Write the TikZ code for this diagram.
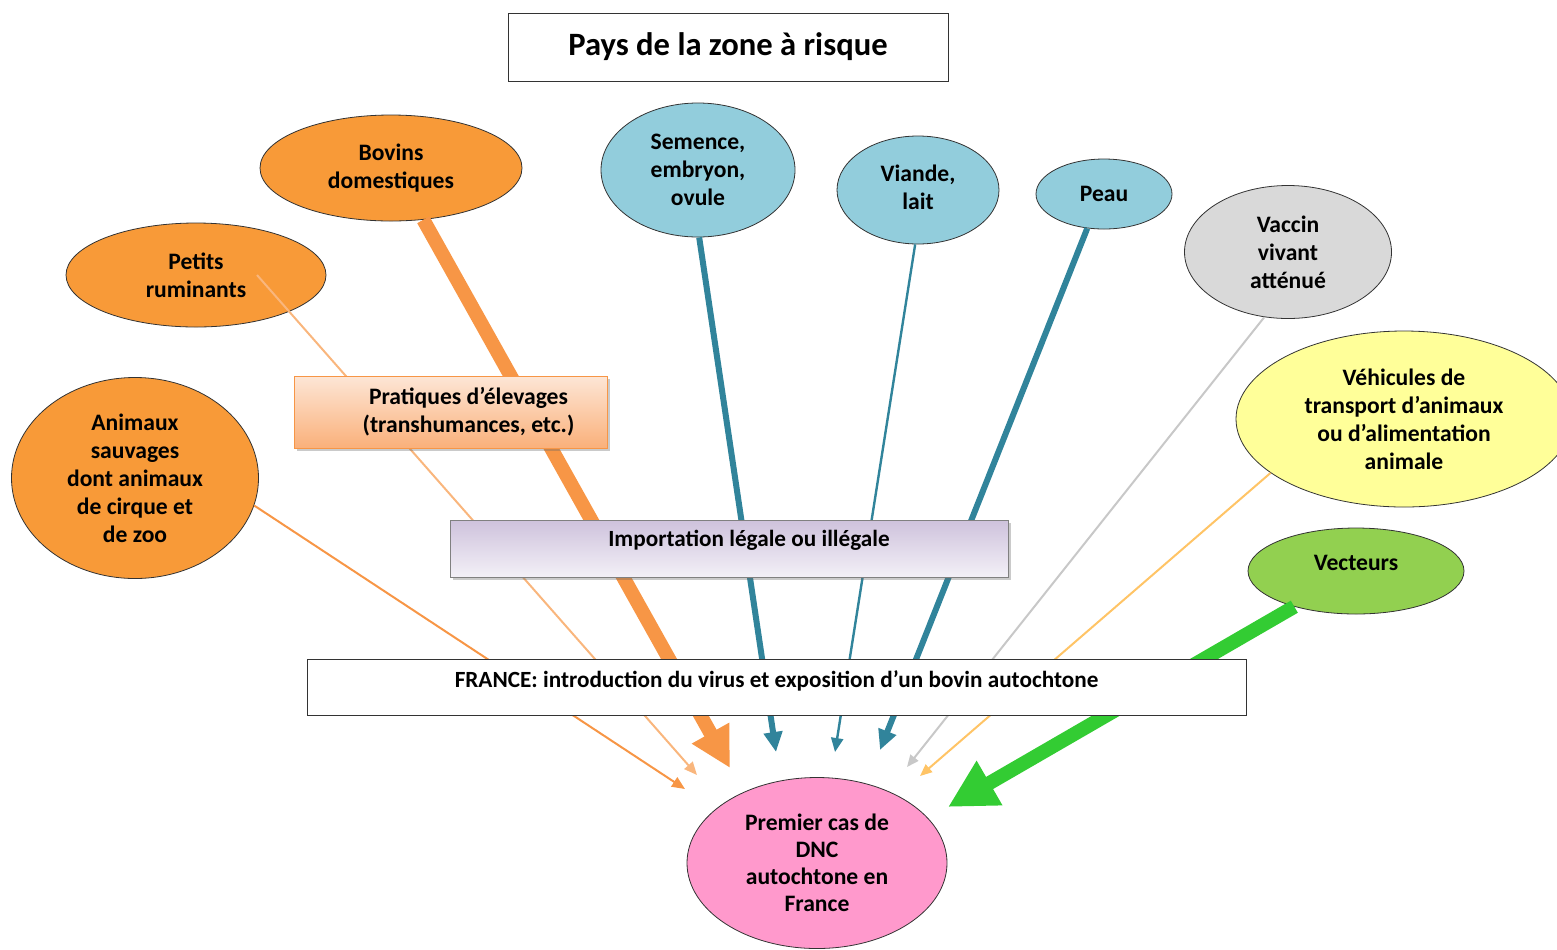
\documentclass[tikz,border=0pt]{standalone}
\usepackage{fontspec}
\setmainfont{Carlito}
\usepackage{tikz}
\usetikzlibrary{shapes,arrows.meta,positioning,calc,shadows}
\usepackage{xcolor}

\definecolor{orfill}{RGB}{248,154,56}
\definecolor{orline}{RGB}{247,150,70}
\definecolor{dnteal}{RGB}{49,132,155}
\definecolor{skyfill}{RGB}{146,205,220}
\definecolor{grayfill}{RGB}{217,217,217}
\definecolor{grayline}{RGB}{200,200,200}
\definecolor{yelfill}{RGB}{255,255,153}
\definecolor{yelline}{RGB}{255,196,102}
\definecolor{grnfill}{RGB}{146,208,80}
\definecolor{grnline}{RGB}{51,204,51}
\definecolor{pinkfill}{RGB}{255,153,204}
\definecolor{pratop}{RGB}{253,230,214}
\definecolor{prabot}{RGB}{250,176,122}
\definecolor{imptop}{RGB}{206,194,220}
\definecolor{impbot}{RGB}{243,240,247}

\begin{document}
\begin{tikzpicture}[x=0.5pt, y=-0.5pt,
    oval/.style={ellipse, draw=black!80, thin, inner sep=0pt, align=center,
                 font=\bfseries\fontsize{11.8}{14}\selectfont},
    box/.style={rectangle, draw=black!80, thin, inner sep=0pt, align=center},
    shade/.style={drop shadow={shadow xshift=1.5pt, shadow yshift=-1.5pt,
                 opacity=0.35, fill=black!60}},
    lbl/.style={font=\bfseries\fontsize{11.6}{14}\selectfont, align=center},
    link/.style={line cap=butt}
  ]
  \useasboundingbox (0,0) rectangle (1557,949);

  % sources
  \node[oval, fill=orfill, minimum width=131pt, minimum height=53pt] (bov) at (391,168) {Bovins\\domestiques};
  \node[oval, fill=orfill, minimum width=130pt, minimum height=52pt] (pr) at (196,275) {Petits\\ruminants};
  \node[oval, fill=orfill, minimum width=123.5pt, minimum height=100.5pt] (ani) at (135,478) {Animaux\\sauvages\\dont animaux\\de cirque et\\de zoo};
  \node[oval, fill=skyfill, minimum width=97pt, minimum height=67pt] (sem) at (698,170) {Semence,\\embryon,\\ovule};
  \node[oval, fill=skyfill, minimum width=81pt, minimum height=54pt, text depth=3pt] (via) at (918,190) {Viande,\\lait};
  \node[oval, fill=skyfill, minimum width=68pt, minimum height=35pt] (peau) at (1104,194) {Peau};
  \node[oval, fill=grayfill, minimum width=103.5pt, minimum height=66.5pt] (vac) at (1288,252) {Vaccin\\vivant\\atténué};
  \node[oval, fill=yelfill, minimum width=168pt, minimum height=88pt] (veh) at (1404,419) {Véhicules de\\transport d’animaux\\ou d’alimentation\\animale};
  \node[oval, fill=grnfill, minimum width=108pt, minimum height=43pt, text depth=8pt] (vec) at (1356,571) {Vecteurs};

  % target
  \node[oval, fill=pinkfill, minimum width=130pt, minimum height=85.5pt,
        font=\bfseries\fontsize{11.8}{13.5}\selectfont] (prem) at (817,863) {Premier cas de\\DNC\\autochtone en\\France};

  % arrow tips
  \coordinate (ta) at (685,789);
  \coordinate (tp) at (697,775);
  \coordinate (tb) at (730,768);
  \coordinate (ts) at (776,752);
  \coordinate (tv) at (835,752);
  \coordinate (tpe) at (880,750);
  \coordinate (tva) at (907,767);
  \coordinate (tve) at (920,776);
  \coordinate (tg) at (948,807);
  \coordinate (prs) at ($(pr.center)+(61,0)$);

  \draw[link, orline, line width=1pt, -{Triangle[width=5.5pt,length=6.5pt]}] (ani.347.5) -- (ta);
  \draw[link, orline!70!white, line width=1pt, -{Triangle[width=5.5pt,length=6.5pt]}] (prs) -- (tp);
  \draw[link, orline, line width=7pt, -{Triangle[width=20pt,length=20pt]}] (bov.302.2) -- (tb);
  \draw[link, dnteal, line width=3pt, -{Triangle[width=9pt,length=10pt]}] (sem.271.7) -- (ts);
  \draw[link, dnteal, line width=1.2pt, -{Triangle[width=6pt,length=7pt]}] (via.267.9) -- (tv);
  \draw[link, dnteal, line width=3pt, -{Triangle[width=9pt,length=10pt]}] (peau.244.1) -- (tpe);
  \draw[link, grayline, line width=1pt, -{Triangle[width=5pt,length=6pt]}] (vac.250.8) -- (tva);
  \draw[link, yelline, line width=1pt, -{Triangle[width=5pt,length=6pt]}] (veh.202.7) -- (tve);
  \draw[link, grnline, line width=7pt, -{Triangle[width=24pt,length=24pt]}] (vec) -- (tg);

  % boxes over the links
  \node[box, fill=white, minimum width=220pt, minimum height=34pt,
        font=\bfseries\fontsize{16.3}{19}\selectfont] (title) at (728,47) {Pays de la zone à risque};
  \node[box, draw=orline, top color=pratop, bottom color=prabot, shade,
        minimum width=156.5pt, minimum height=36pt,
        label={[lbl, font=\bfseries\fontsize{11.8}{14}\selectfont, xshift=9pt]center:Pratiques d’élevages\\(transhumances, etc.)}] (prat) at (450.5,412) {};
  \node[box, draw=black!50, top color=imptop, bottom color=impbot, shade,
        minimum width=279pt, minimum height=28.5pt,
        label={[lbl, xshift=10pt, yshift=4pt]center:Importation légale ou illégale}] (imp) at (729,548.5) {};
  \node[box, fill=white, minimum width=469.5pt, minimum height=28pt,
        label={[lbl, yshift=3pt]center:FRANCE:\ introduction du virus et exposition d’un bovin autochtone}] (fra) at (776.5,687) {};

\end{tikzpicture}
\end{document}
